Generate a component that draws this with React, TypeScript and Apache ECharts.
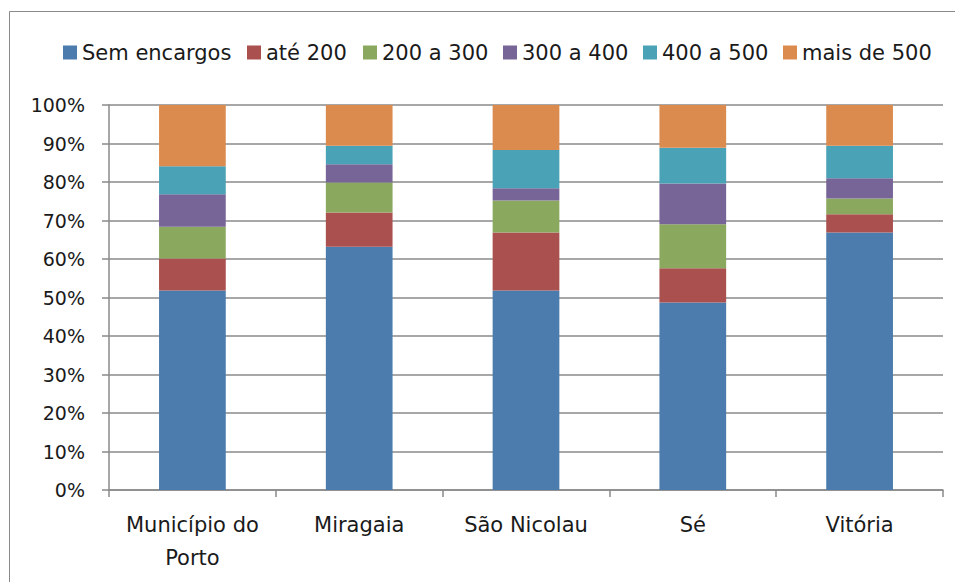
import React, { useEffect, useRef } from "react";
import * as echarts from "echarts";

const categories = ["Município do\nPorto", "Miragaia", "São Nicolau", "Sé", "Vitória"];
const seriesNames = ["Sem encargos", "até 200", "200 a 300", "300 a 400", "400 a 500", "mais de 500"];
const semEncargos = [51.8, 63.2, 51.8, 48.7, 66.9];
const ate200 = [8.3, 8.9, 15.1, 8.9, 4.7];
const de200a300 = [8.3, 7.8, 8.3, 11.4, 4.1];
const de300a400 = [8.4, 4.7, 3.2, 10.6, 5.3];
const de400a500 = [7.3, 4.8, 9.9, 9.3, 8.4];
const maisDe500 = [15.9, 10.6, 11.7, 11.1, 10.6];
const colors = ["#4B7CAD", "#AA514F", "#8BA95E", "#776598", "#49A2B5", "#DC8B4E"];
const legendLefts = [63, 247, 363, 503, 643, 783];

export default function App() {
  const ref = useRef<HTMLDivElement>(null);
  useEffect(() => {
    const chart = echarts.init(ref.current!, null, { renderer: "svg" });
    const values = [semEncargos, ate200, de200a300, de300a400, de400a500, maisDe500];
    const font = "DejaVu Sans";
    chart.setOption({
      animation: false,
      color: colors,
      graphic: [
        {
          type: "rect",
          shape: { x: 9.5, y: 11.5, width: 1000, height: 1000 },
          style: { fill: "none", stroke: "#8a8a8a", lineWidth: 1 },
          silent: true,
        },
      ],
      legend: seriesNames.map((n, i) => ({
        data: [n],
        left: legendLefts[i],
        top: 42,
        itemWidth: 14,
        itemHeight: 14,
        itemGap: 5,
        icon: "rect",
        padding: 0,
        textStyle: { fontFamily: font, fontSize: 21, color: "#1a1a1a", padding: [0, 0, 0, 0] },
      })),
      grid: { left: 109, right: 12, top: 105, bottom: 92 },
      xAxis: {
        type: "category",
        data: categories,
        axisLine: { lineStyle: { color: "#8a8a8a", width: 1.5 } },
        axisTick: { show: true, length: 7, lineStyle: { color: "#8a8a8a", width: 1.5 } },
        axisLabel: {
          fontFamily: font,
          fontSize: 21,
          color: "#1a1a1a",
          margin: 18,
          lineHeight: 33,
          interval: 0,
        },
      },
      yAxis: {
        type: "value",
        min: 0,
        max: 100,
        interval: 10,
        axisLine: { show: true, lineStyle: { color: "#8a8a8a", width: 1.5 } },
        axisTick: { show: true, length: 7, lineStyle: { color: "#8a8a8a", width: 1.5 } },
        axisLabel: {
          fontFamily: font,
          fontSize: 19,
          color: "#1a1a1a",
          margin: 24,
          formatter: "{value}%",
        },
        splitLine: { show: true, lineStyle: { color: "#8a8a8a", width: 1.5 } },
      },
      series: seriesNames.map((n, i) => ({
        name: n,
        type: "bar",
        stack: "total",
        barWidth: "40%",
        data: values[i],
        itemStyle: { color: colors[i] },
      })),
    });
    return () => chart.dispose();
  }, []);
  return (
    <div
      ref={ref}
      style={{ position: "fixed", left: 0, top: 0, width: 955, height: 582, background: "#fff" }}
    />
  );
}
